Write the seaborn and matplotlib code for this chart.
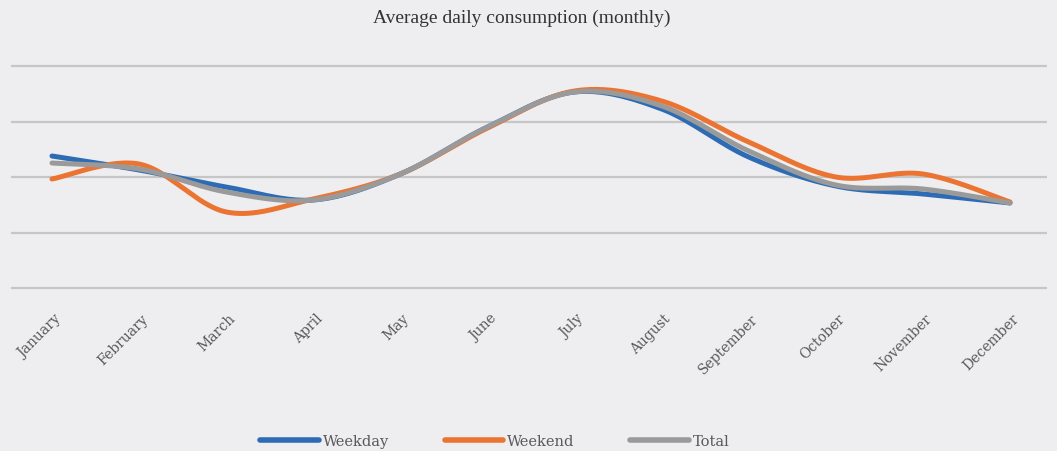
import numpy as np
import pandas as pd
import matplotlib
matplotlib.use("Agg")
import matplotlib.pyplot as plt
import matplotlib.transforms as mtrans
from matplotlib.lines import Line2D
import seaborn as sns

months = ["January", "February", "March", "April", "May", "June", "July",
          "August", "September", "October", "November", "December"]
weekday = [11.89, 10.63, 9.10, 7.93, 10.27, 14.50, 17.66, 16.13, 11.80, 9.19, 8.47, 7.66]
weekend = [9.82, 11.17, 6.85, 8.02, 10.27, 14.41, 17.75, 16.85, 13.15, 10.00, 10.27, 7.75]
total = [11.26, 10.72, 8.65, 7.93, 10.27, 14.50, 17.66, 16.40, 12.34, 9.28, 8.92, 7.66]
series_names = ["Weekday", "Weekend", "Total"]
colors = ["#2D6BB5", "#EC7432", "#9A9A9A"]

sns.set_theme(style="white")
plt.rcParams["font.family"] = ["DejaVu Serif"]

BG = "#EEEEF0"


def smooth(xs, ys, n=40):
    """Excel-like Bezier smoothing through the given points."""
    P = np.column_stack([xs, ys]).astype(float)
    P = np.vstack([P[0], P, P[-1]])
    out = []
    t = np.linspace(0, 1, n)[:, None]
    for i in range(1, len(P) - 2):
        p0, p1, p2, p3 = P[i - 1], P[i], P[i + 1], P[i + 2]
        c1 = p1 + (p2 - p0) / 6.0
        c2 = p2 - (p3 - p1) / 6.0
        seg = ((1 - t) ** 3) * p1 + 3 * ((1 - t) ** 2) * t * c1 + 3 * (1 - t) * t ** 2 * c2 + t ** 3 * p2
        out.append(seg if i == 1 else seg[1:])
    return np.vstack(out)


xs = np.arange(len(months))
frames = []
for name, vals in zip(series_names, [weekday, weekend, total]):
    c = smooth(xs, vals)
    frames.append(pd.DataFrame({"x": c[:, 0], "y": c[:, 1], "series": name}))
df = pd.concat(frames, ignore_index=True)

W, H = 1057, 452
fig = plt.figure(figsize=(W / 100, H / 100), dpi=100, facecolor=BG)
unit = (289 - 67) / 20.0
top_px = 67 - unit
bot_px = 289 + unit
ax = fig.add_axes([11 / W, 1 - bot_px / H, (1047 - 11) / W, (bot_px - top_px) / H])
ax.set_facecolor(BG)

sns.lineplot(data=df, x="x", y="y", hue="series", palette=dict(zip(series_names, colors)),
             sort=False, estimator=None, linewidth=3.6, ax=ax, legend=False)
for ln in ax.get_lines():
    ln.set_solid_capstyle("round")

ax.set_ylim(-1, 21)
dx = 87.09
ax.set_xlim(-(52 - 11) / dx, 11 + (1047 - 1010) / dx)
ax.set_yticks([0, 5, 10, 15, 20])
ax.set_yticklabels([])
ax.yaxis.grid(True, color="#C6C6C6", linewidth=1.6)
ax.set_axisbelow(True)
ax.tick_params(axis="y", length=0)
ax.set_xticks(xs)
ax.set_xticklabels(months, rotation=45, ha="right", rotation_mode="anchor",
                   fontsize=10, color="#595959")
ax.tick_params(axis="x", length=0, pad=8.6)
offset = mtrans.ScaledTranslation(2 / 100, 0, fig.dpi_scale_trans)
for lab in ax.get_xticklabels():
    lab.set_transform(lab.get_transform() + offset)
ax.set_xlabel("")
ax.set_ylabel("")
for s in ax.spines.values():
    s.set_visible(False)

fig.text(522 / W, 1 - 18 / H, "Average daily consumption (monthly)", ha="center", va="center",
         fontsize=14, color="#333333", family=["Liberation Serif"])

handles = [Line2D([0], [0], color=c, linewidth=4, solid_capstyle="round") for c in colors]
fig.legend(handles, series_names, loc="center", bbox_to_anchor=(495 / W, 1 - 442 / H), ncol=3,
           frameon=False, fontsize=10.5, labelcolor="#595959", handlelength=4.0,
           handletextpad=0.3, columnspacing=3.8)

fig.savefig("out.png", dpi=100, facecolor=BG)
